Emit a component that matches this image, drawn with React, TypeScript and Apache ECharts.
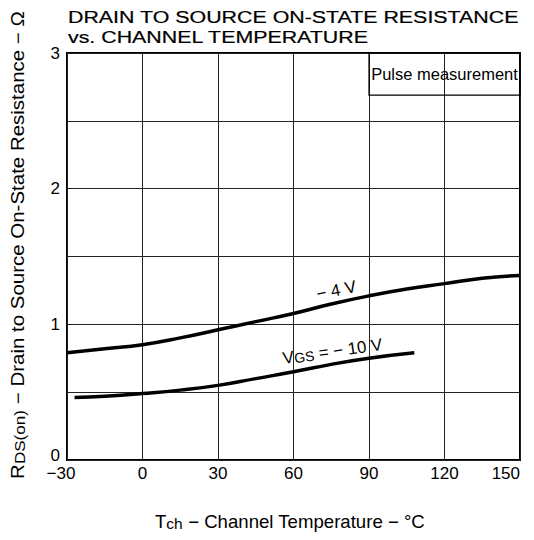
import React, { useEffect, useRef } from "react";
import * as echarts from "echarts";

// ---- data ----
const temps4 = [-30, -15, 0, 15, 30, 45, 60, 75, 90, 105, 120, 135, 150];
const rds4 = [0.79, 0.82, 0.85, 0.9, 0.96, 1.02, 1.08, 1.15, 1.21, 1.26, 1.3, 1.34, 1.36];
const temps10 = [-27, -15, 0, 15, 30, 45, 60, 75, 90, 108];
const rds10 = [0.46, 0.47, 0.49, 0.515, 0.55, 0.6, 0.65, 0.705, 0.75, 0.79];
const xTicks = [-30, 0, 30, 60, 90, 120, 150];
const yTicks = [0, 1, 2, 3];
const pulseBox = [
  [90, 2.69],
  [150, 3],
];
const label4Pos = [77, 1.25];
const label10Pos = [75.5, 0.8];

const TITLE1 = "DRAIN TO SOURCE ON-STATE RESISTANCE";
const TITLE2 = "vs. CHANNEL TEMPERATURE";
const FONT = '"Liberation Sans", Arial, sans-serif';

export default function App() {
  const ref = useRef<HTMLDivElement>(null);
  useEffect(() => {
    const chart = echarts.init(ref.current!, null, { renderer: "svg" });
    const ctx = document.createElement("canvas").getContext("2d")!;
    const measure = (t: string, size: number) => {
      ctx.font = `${size}px ${FONT}`;
      return ctx.measureText(t).width;
    };
    const minus = (v: number) => String(v).replace("-", "\u2212");

    chart.setOption({
      animation: false,
      grid: {
        left: 67,
        right: 14,
        top: 53,
        bottom: 80,
        show: true,
        borderColor: "#000",
        borderWidth: 2,
        backgroundColor: "transparent",
      },
      xAxis: {
        type: "value",
        min: -30,
        max: 150,
        interval: 30,
        axisLine: { show: false },
        axisTick: { show: false },
        splitLine: { show: true, lineStyle: { color: "#222", width: 1 } },
        axisLabel: {
          color: "#000",
          fontSize: 17,
          fontFamily: FONT,
          margin: 5,
          alignMaxLabel: "right",
          formatter: (v: number) =>
            xTicks.includes(v) ? (v === xTicks[0] ? `{m|${minus(v)}}` : minus(v)) : "",
          rich: { m: { fontSize: 17, fontFamily: FONT, color: "#000", padding: [0, 12, 0, 0] } },
        },
      },
      yAxis: {
        type: "value",
        min: 0,
        max: 3,
        interval: 0.5,
        axisLine: { show: false },
        axisTick: { show: false },
        splitLine: { show: true, lineStyle: { color: "#222", width: 1 } },
        axisLabel: {
          color: "#000",
          fontSize: 17,
          fontFamily: FONT,
          margin: 7,
          formatter: (v: number) =>
            yTicks.includes(v) ? (v === yTicks[0] ? `{z|${v}}` : String(v)) : "",
          rich: {
            z: { fontSize: 17, fontFamily: FONT, color: "#000", lineHeight: 17, padding: [0, 0, 10, 0] },
          },
        },
      },
      series: [
        {
          type: "line",
          data: temps4.map((t, i) => [t, rds4[i]]),
          smooth: true,
          symbol: "none",
          lineStyle: { color: "#000", width: 3.5 },
          silent: true,
          markArea: {
            silent: true,
            itemStyle: { color: "rgba(0,0,0,0)", borderColor: "#000", borderWidth: 1.2 },
            label: {
              show: true,
              position: "inside",
              color: "#000",
              fontSize: 16.5,
              fontFamily: FONT,
            },
            data: [
              [
                { name: "Pulse measurement", coord: pulseBox[0] },
                { coord: pulseBox[1] },
              ],
            ],
          },
        },
        {
          type: "line",
          data: temps10.map((t, i) => [t, rds10[i]]),
          smooth: true,
          symbol: "none",
          lineStyle: { color: "#000", width: 3.5 },
          silent: true,
        },
      ],
    });

    const p4 = chart.convertToPixel({ gridIndex: 0 }, label4Pos) as number[];
    const p10 = chart.convertToPixel({ gridIndex: 0 }, label10Pos) as number[];

    // title scaling
    const t1w = measure(TITLE1, 16);
    const t2w = measure(TITLE2, 16);
    const yTitle = "R{s|DS(on)} \u2212 Drain to Source On-State Resistance \u2212 \u03A9";
    const yTitleW =
      measure("R", 18) + measure("DS(on)", 15) + measure(" \u2212 Drain to Source On-State Resistance \u2212 \u03A9", 18);
    const xTitleW = measure("T", 18) + measure("ch", 15) + measure(" \u2212 Channel Temperature \u2212 \u00B0C", 18);

    const titleStyle = (text: string) => ({
      text,
      font: `16px ${FONT}`,
      fill: "#000",
      stroke: "#000",
      lineWidth: 0.2,
      textAlign: "left",
      align: "left",
      textVerticalAlign: "middle",
      verticalAlign: "middle",
    });

    chart.setOption({
      graphic: [
        { type: "text", x: 68, y: 17, scaleX: 451 / t1w, style: titleStyle(TITLE1) },
        { type: "text", x: 68, y: 37, scaleX: 301 / t2w, style: titleStyle(TITLE2) },
        {
          type: "text",
          x: 18,
          y: 245,
          rotation: Math.PI / 2,
          scaleX: 468 / yTitleW,
          style: {
            text: yTitle,
            font: `18px ${FONT}`,
            fill: "#000",
            textAlign: "center",
            align: "center",
            textVerticalAlign: "middle",
            verticalAlign: "middle",
            rich: {
              s: { fontSize: 15, fontFamily: FONT, fill: "#000", lineHeight: 18, verticalAlign: "bottom" },
            },
          },
        },
        {
          type: "text",
          x: 290,
          y: 522,
          scaleX: 270 / xTitleW,
          style: {
            text: "T{s|ch} \u2212 Channel Temperature \u2212 \u00B0C",
            font: `18px ${FONT}`,
            fill: "#000",
            textAlign: "center",
            align: "center",
            textVerticalAlign: "middle",
            verticalAlign: "middle",
            rich: {
              s: { fontSize: 15, fontFamily: FONT, fill: "#000", lineHeight: 16, verticalAlign: "bottom" },
            },
          },
        },
        {
          type: "text",
          x: p4[0],
          y: p4[1],
          rotation: 0.2,
          style: {
            text: "\u2212 4 V",
            font: `17px ${FONT}`,
            fill: "#000",
            textAlign: "center",
            align: "center",
            textVerticalAlign: "middle",
            verticalAlign: "middle",
          },
        },
        {
          type: "text",
          x: p10[0],
          y: p10[1],
          rotation: 0.14,
          style: {
            text: "V{s|GS} = \u2212 10 V",
            font: `17px ${FONT}`,
            fill: "#000",
            textAlign: "center",
            align: "center",
            textVerticalAlign: "middle",
            verticalAlign: "middle",
            rich: {
              s: { fontSize: 14, fontFamily: FONT, fill: "#000", lineHeight: 16, verticalAlign: "bottom" },
            },
          },
        },
      ],
    });

    return () => chart.dispose();
  }, []);
  return <div ref={ref} style={{ position: "absolute", left: 0, top: 0, width: 534, height: 540 }} />;
}
